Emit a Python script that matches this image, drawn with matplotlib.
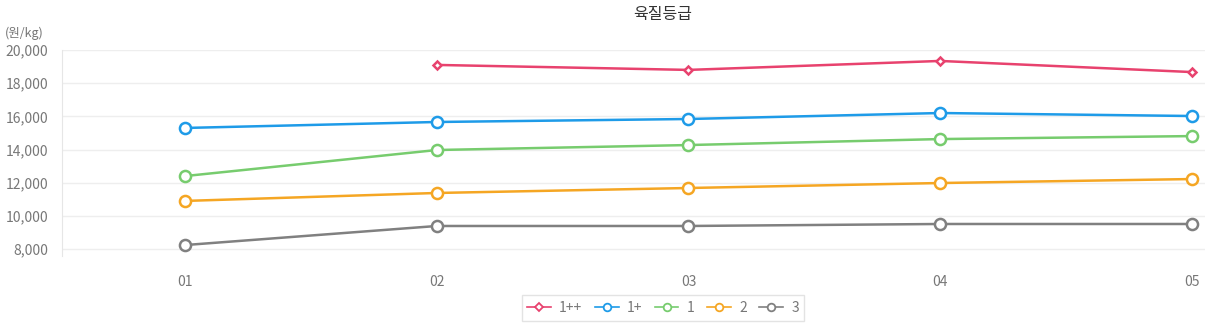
import matplotlib
matplotlib.use("Agg")
import matplotlib.pyplot as plt
import numpy as np

plt.rcParams['font.family'] = ['Noto Sans CJK KR', 'DejaVu Sans']

categories = ["01", "02", "03", "04", "05"]
series_names = ["1++", "1+", "1", "2", "3"]
v_1pp = [np.nan, 19100, 18800, 19340, 18670]
v_1p = [15300, 15660, 15840, 16200, 16020]
v_1 = [12400, 13970, 14270, 14630, 14810]
v_2 = [10900, 11380, 11680, 11980, 12220]
v_3 = [8240, 9390, 9390, 9510, 9510]
yticks = [8000, 10000, 12000, 14000, 16000, 18000, 20000]

colors = ["#e8426e", "#1e9be8", "#77cc6e", "#f5a623", "#808080"]
markers = ["D", "o", "o", "o", "o"]
msizes = [4.5, 8, 8, 8, 8]
data = [v_1pp, v_1p, v_1, v_2, v_3]

fig = plt.figure(figsize=(12.08, 3.27), dpi=100)
ax = fig.add_axes([62/1208, 1-256/327, (1205-62)/1208, (256-50)/327])

x = np.arange(len(categories))
for name, vals, c, m, ms in zip(series_names, data, colors, markers, msizes):
    ax.plot(x, vals, color=c, lw=1.8, marker=m, ms=ms, mfc="white", mec=c, mew=1.8,
            label=name, zorder=3, clip_on=False)

ax.set_xlim(-0.489, 4.052)
ax.set_ylim(7580, 20000)
ax.set_yticks(yticks)
ax.set_yticklabels([f"{v:,}" for v in yticks])
ax.set_xticks(x)
ax.set_xticklabels(categories)
ax.grid(axis='y', color='#eeeeee', lw=1)
ax.set_axisbelow(True)
for s in ['top', 'right', 'bottom']:
    ax.spines[s].set_visible(False)
ax.spines['left'].set_color('#e6e6e6')
ax.tick_params(axis='both', length=0, colors='#777777', labelsize=10)
ax.tick_params(axis='x', pad=14)
ax.tick_params(axis='y', pad=10)

fig.text(663/1208, 1-15/327, "육질등급", ha='center', va='center', fontsize=11.5, color='#333333')
fig.text(5/1208, 1-33/327, "(원/kg)", ha='left', va='center', fontsize=9, color='#777777')

leg = fig.legend(loc='center', bbox_to_anchor=(663/1208, 1-308/327), ncol=5, frameon=True,
                 fontsize=10, handlelength=1.7, columnspacing=0.9, handletextpad=0.6,
                 borderpad=0.4, fancybox=False)
leg.get_frame().set_edgecolor('#dddddd')
leg.get_frame().set_linewidth(1)
for t in leg.get_texts():
    t.set_color('#777777')
for h in leg.legend_handles:
    h.set_markersize(5.5)
    h.set_markeredgewidth(1.3)
    h.set_linewidth(1.2)
leg.legend_handles[0].set_markersize(4)

fig.savefig("out.png", dpi=100)
